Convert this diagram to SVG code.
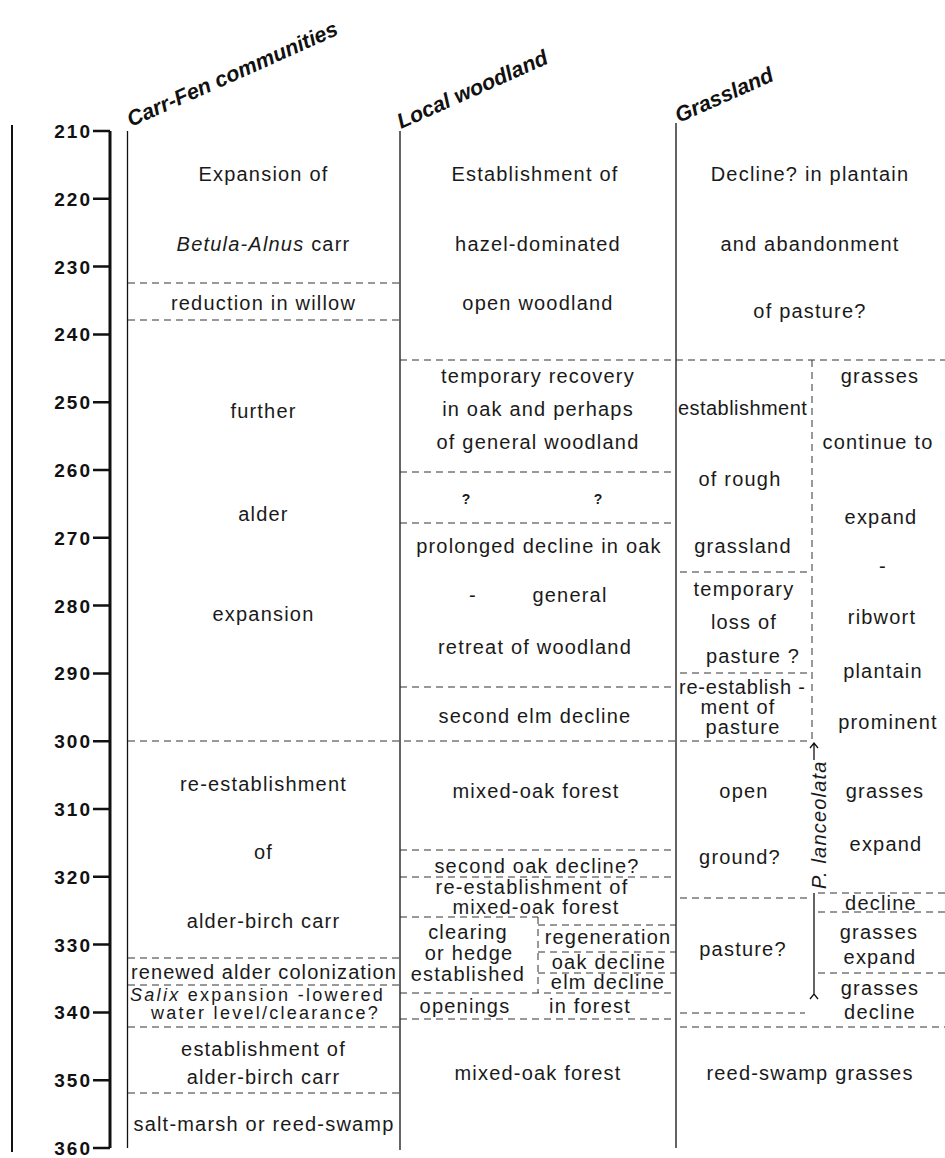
<svg xmlns="http://www.w3.org/2000/svg" width="945" height="1158" viewBox="0 0 945 1158">
<style>
.t{font-family:"Liberation Sans",Arial,sans-serif;font-size:20px;letter-spacing:1.2px;fill:#1a1a1a;text-anchor:middle}
.s{text-anchor:start}
.i{font-style:italic}
.sm{font-size:18px;letter-spacing:1.3px}
.q{font-family:"Liberation Sans",Arial,sans-serif;font-size:14px;font-weight:bold;fill:#1a1a1a;text-anchor:middle}
.ax{font-family:"Liberation Sans",Arial,sans-serif;font-size:19px;font-weight:bold;letter-spacing:2px;fill:#111;text-anchor:end}
.hd{font-family:"Liberation Sans",Arial,sans-serif;font-size:21.5px;font-weight:bold;font-style:italic;fill:#111}
.ln{stroke:#111;stroke-width:1.3;fill:none}
.th{stroke:#111;stroke-width:3;fill:none}
.tk{stroke:#111;stroke-width:2.5;fill:none}
.ds{stroke:#333;stroke-width:1;stroke-dasharray:7 5;fill:none}
</style>
<rect width="945" height="1158" fill="#fff"/>
<g id="axis">
<line class="ln" x1="12" y1="125" x2="12" y2="1152" style="stroke-width:2"/>
<line class="th" x1="110" y1="131" x2="110" y2="1148"/>
<path class="tk" d="M93 131H110M93 198.8H110M93 266.6H110M93 334.4H110M93 402.2H110M93 470H110M93 537.8H110M93 605.6H110M93 673.4H110M93 741.2H110M93 809H110M93 876.8H110M93 944.6H110M93 1012.4H110M93 1080.2H110M93 1148H110"/>
<text class="ax" x="92" y="138">210</text>
<text class="ax" x="92" y="205.8">220</text>
<text class="ax" x="92" y="273.6">230</text>
<text class="ax" x="92" y="341.4">240</text>
<text class="ax" x="92" y="409.2">250</text>
<text class="ax" x="92" y="477">260</text>
<text class="ax" x="92" y="544.8">270</text>
<text class="ax" x="92" y="612.6">280</text>
<text class="ax" x="92" y="680.4">290</text>
<text class="ax" x="92" y="748.2">300</text>
<text class="ax" x="92" y="816">310</text>
<text class="ax" x="92" y="883.8">320</text>
<text class="ax" x="92" y="951.6">330</text>
<text class="ax" x="92" y="1019.4">340</text>
<text class="ax" x="92" y="1087.2">350</text>
<text class="ax" x="92" y="1155">360</text>
</g>
<g id="headers">
<text class="hd" transform="translate(131,127) rotate(-24)">Carr-Fen communities</text>
<text class="hd" transform="translate(401,129) rotate(-24)">Local woodland</text>
<text class="hd" transform="translate(679,123) rotate(-24)">Grassland</text>
</g>
<g id="connectors">
<line class="ln" x1="127.5" y1="131" x2="127.5" y2="1148"/>
<line class="ln" x1="400" y1="131" x2="400" y2="1150"/>
<line class="ln" x1="676" y1="123" x2="676" y2="1148"/>
<path class="ds" d="M128 283H400M128 320H400M128 741H810M128 958H400M128 985H400M128 1027H400M128 1093H400"/>
<path class="ds" d="M400 360H945M400 472H676M400 523H676M400 687H676M400 850H676M400 877H676M400 917H538M538 925H676M538 952H676M538 973H676M400 993H676M400 1019H676M538 917V993"/>
<path class="ds" d="M812 360V741M680 572H812M680 673H812M680 898H812M818 893H945M818 912H945M818 973H945M680 1013H805M680 1027H945"/>
<path class="ln" d="M814 760V743M810 748L814 743L818 748"/>
<path class="ln" d="M814 893V995M810 999L814 994L818 999"/>
</g>
<g id="carr-fen">
<text class="t" x="263.5" y="181">Expansion of</text>
<text class="t" x="263.5" y="251"><tspan class="i">Betula-Alnus</tspan> carr</text>
<text class="t" x="263.5" y="310">reduction in willow</text>
<text class="t" x="263.5" y="418">further</text>
<text class="t" x="263.5" y="521">alder</text>
<text class="t" x="263.5" y="621">expansion</text>
<text class="t" x="263.5" y="791">re-establishment</text>
<text class="t" x="263.5" y="859">of</text>
<text class="t" x="263.5" y="928">alder-birch carr</text>
<text class="t" x="264" y="979" textLength="266">renewed alder colonization</text>
<text class="t sm s" x="130" y="1001" textLength="254"><tspan class="i">Salix</tspan> expansion -lowered</text>
<text class="t sm s" x="151" y="1019" textLength="228">water level/clearance?</text>
<text class="t" x="263.5" y="1056">establishment of</text>
<text class="t" x="263.5" y="1084">alder-birch carr</text>
<text class="t" x="264" y="1131">salt-marsh or reed-swamp</text>
</g>
<g id="woodland">
<text class="t" x="535" y="181">Establishment of</text>
<text class="t" x="538" y="251">hazel-dominated</text>
<text class="t" x="538" y="310">open woodland</text>
<text class="t" x="538" y="383">temporary recovery</text>
<text class="t" x="538" y="416">in oak and perhaps</text>
<text class="t" x="538" y="449">of general woodland</text>
<text class="q" x="466" y="504">?</text>
<text class="q" x="598" y="504">?</text>
<text class="t" x="539" y="553">prolonged decline in oak</text>
<text class="t" x="473" y="602">-</text>
<text class="t" x="570" y="602">general</text>
<text class="t" x="535" y="654">retreat of woodland</text>
<text class="t" x="535" y="723">second elm decline</text>
<text class="t" x="536" y="798">mixed-oak forest</text>
<text class="t" x="537" y="873">second oak decline?</text>
<text class="t" x="532" y="894">re-establishment of</text>
<text class="t" x="536" y="914">mixed-oak forest</text>
<text class="t" x="468" y="939">clearing</text>
<text class="t" x="469" y="960">or hedge</text>
<text class="t" x="468" y="981">established</text>
<text class="t" x="608" y="944">regeneration</text>
<text class="t" x="609" y="969">oak decline</text>
<text class="t" x="608" y="989">elm decline</text>
<text class="t" x="465" y="1013">openings</text>
<text class="t" x="590" y="1013">in forest</text>
<text class="t" x="538" y="1080">mixed-oak forest</text>
</g>
<g id="grassland">
<text class="t" x="810" y="181">Decline? in plantain</text>
<text class="t" x="810" y="251">and abandonment</text>
<text class="t" x="810" y="318">of pasture?</text>
<text class="t s" x="678" y="415" textLength="130">establishment</text>
<text class="t" x="740" y="486">of rough</text>
<text class="t" x="743" y="553">grassland</text>
<text class="t" x="744" y="596">temporary</text>
<text class="t" x="744" y="629">loss of</text>
<text class="t" x="753" y="663">pasture ?</text>
<text class="t s" x="679" y="694" textLength="127">re-establish -</text>
<text class="t" x="738" y="714">ment of</text>
<text class="t" x="743" y="734">pasture</text>
<text class="t" x="744" y="798">open</text>
<text class="t" x="740" y="864">ground?</text>
<text class="t" x="743" y="956">pasture?</text>
<text class="t i s" transform="translate(826,889) rotate(-90)">P. lanceolata</text>
<text class="t" x="880" y="383">grasses</text>
<text class="t" x="878" y="449">continue to</text>
<text class="t" x="881" y="524">expand</text>
<text class="t" x="883" y="573">-</text>
<text class="t" x="882" y="624">ribwort</text>
<text class="t" x="883" y="678">plantain</text>
<text class="t" x="888" y="729">prominent</text>
<text class="t" x="885" y="798">grasses</text>
<text class="t" x="886" y="851">expand</text>
<text class="t" x="881" y="910">decline</text>
<text class="t" x="879" y="939">grasses</text>
<text class="t" x="880" y="964">expand</text>
<text class="t" x="880" y="995">grasses</text>
<text class="t" x="880" y="1019">decline</text>
<text class="t" x="810" y="1080">reed-swamp grasses</text>
</g>
</svg>
